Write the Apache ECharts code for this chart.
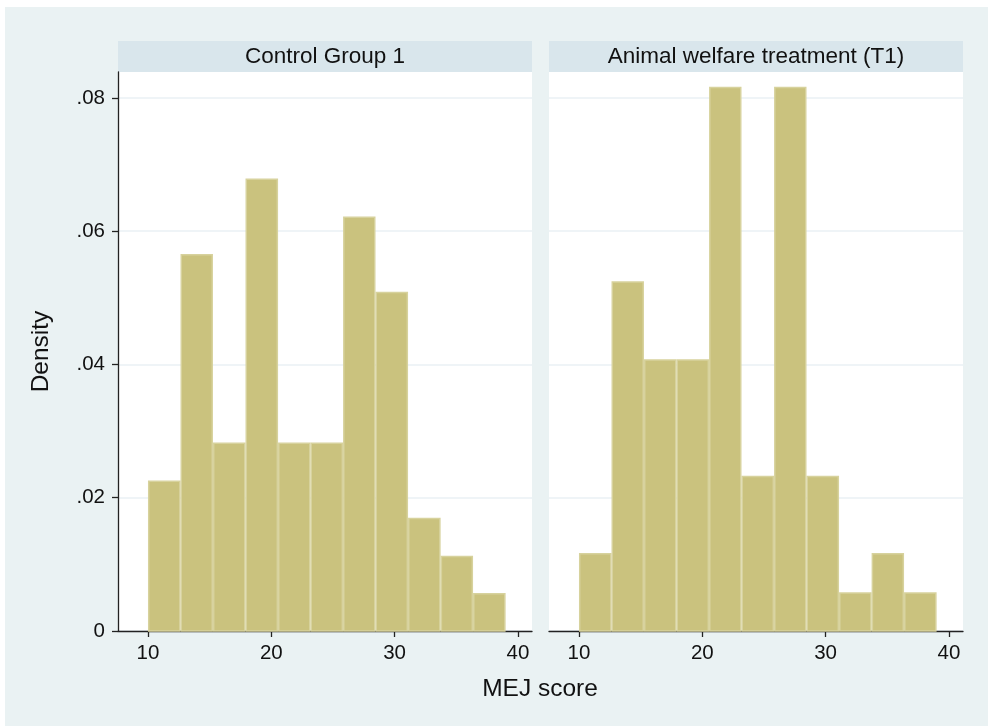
<!DOCTYPE html>
<html><head><meta charset="utf-8">
<script src="https://cdn.jsdelivr.net/npm/echarts@6/dist/echarts.min.js"></script>
<style>html,body{margin:0;padding:0;background:#fff}#c{width:988px;height:726px}</style>
</head><body><div id="c"></div>
<script>
var panelTitles = ['Control Group 1', 'Animal welfare treatment (T1)'];
var binEdges = [10, 12.64, 15.27, 17.91, 20.55, 23.18, 25.82, 28.45, 31.09, 33.73, 36.36, 39];
var densityControl = [0.0226, 0.0566, 0.0283, 0.0679, 0.0283, 0.0283, 0.0622, 0.0509, 0.0170, 0.0113, 0.0057];
var densityT1 = [0.0117, 0.0525, 0.0408, 0.0408, 0.0817, 0.0233, 0.0817, 0.0233, 0.0058, 0.0117, 0.0058];
var xTicks = [10, 20, 30, 40];
var yTicks = [0, 0.02, 0.04, 0.06, 0.08];
var xLabel = 'MEJ score';
var yLabel = 'Density';

function toData(dens){
  return dens.map(function(d,i){ return [binEdges[i], binEdges[i+1], d]; });
}
function renderBar(params, api){
  var p0 = api.coord([api.value(0), api.value(2)]);
  var p1 = api.coord([api.value(1), 0]);
  return {type:'rect', shape:{x:p0[0]+0.75, y:p0[1]+0.75, width:p1[0]-p0[0]-1.5, height:p1[1]-p0[1]-0.75},
    style:{fill:'#CAC27E', stroke:'#D7D29D', lineWidth:1.5}};
}
var fmtY = function(v){ if (Math.abs(v) < 1e-9) return '0'; return v.toFixed(2).replace(/^0/, ''); };
var FONT = 'Liberation Sans';
var grids = [
  {left:118, top:72, width:414, height:559, show:true, backgroundColor:'#fff', borderWidth:0},
  {left:549, top:72, width:414, height:559, show:true, backgroundColor:'#fff', borderWidth:0}
];
function xAxis(i){
  return {type:'value', gridIndex:i, min:7.57, max:41.14,
    axisLine:{show:true, onZero:false, lineStyle:{color:'#222', width:1.3}},
    axisTick:{show:true, length:6, customValues:xTicks, lineStyle:{color:'#222', width:1.3}},
    axisLabel:{show:true, customValues:xTicks, color:'#111', fontSize:20.5, fontFamily:FONT, margin:12},
    splitLine:{show:false}};
}
function yAxis(i){
  return {type:'value', gridIndex:i, min:0, max:0.0839,
    name: i===0 ? yLabel : '', nameLocation:'middle', nameGap:64,
    nameTextStyle:{color:'#111', fontSize:24.5, fontFamily:FONT},
    axisLine:{show:i===0, lineStyle:{color:'#222', width:1.3}},
    axisTick:{show:i===0, length:6, customValues:yTicks, lineStyle:{color:'#222', width:1.3}},
    axisLabel:{show:i===0, customValues:yTicks, formatter:fmtY, color:'#111', fontSize:20.5, fontFamily:FONT, margin:13},
    splitLine:{show:true, customValues:yTicks, lineStyle:{color:'#EAF1F4', width:1.5}}};
}
var chart = echarts.init(document.getElementById('c'), null, {renderer:'canvas'});
chart.setOption({
  backgroundColor:'#EAF2F3',
  animation:false,
  grid:grids,
  xAxis:[xAxis(0), xAxis(1)],
  yAxis:[yAxis(0), yAxis(1)],
  series:[
    {type:'custom', xAxisIndex:0, yAxisIndex:0, renderItem:renderBar, data:toData(densityControl), encode:{x:[0,1], y:2}},
    {type:'custom', xAxisIndex:1, yAxisIndex:1, renderItem:renderBar, data:toData(densityT1), encode:{x:[0,1], y:2}}
  ],
  graphic:[
    {type:'rect', left:0, top:0, shape:{width:988, height:7}, style:{fill:'#fff'}, silent:true},
    {type:'rect', left:0, top:0, shape:{width:5, height:726}, style:{fill:'#fff'}, silent:true},
    {type:'rect', left:118, top:41, shape:{width:414, height:31}, style:{fill:'#D9E6EC'}},
    {type:'rect', left:549, top:41, shape:{width:414, height:31}, style:{fill:'#D9E6EC'}},
    {type:'text', x:325, y:57, style:{text:panelTitles[0], fill:'#111', fontSize:22.5, fontFamily:FONT, textAlign:'center', textVerticalAlign:'middle'}},
    {type:'text', x:756, y:57, style:{text:panelTitles[1], fill:'#111', fontSize:22.5, fontFamily:FONT, textAlign:'center', textVerticalAlign:'middle'}},
    {type:'text', x:540, y:689, style:{text:xLabel, fill:'#111', fontSize:24.5, fontFamily:FONT, textAlign:'center', textVerticalAlign:'middle'}}
  ]
});
</script></body></html>
